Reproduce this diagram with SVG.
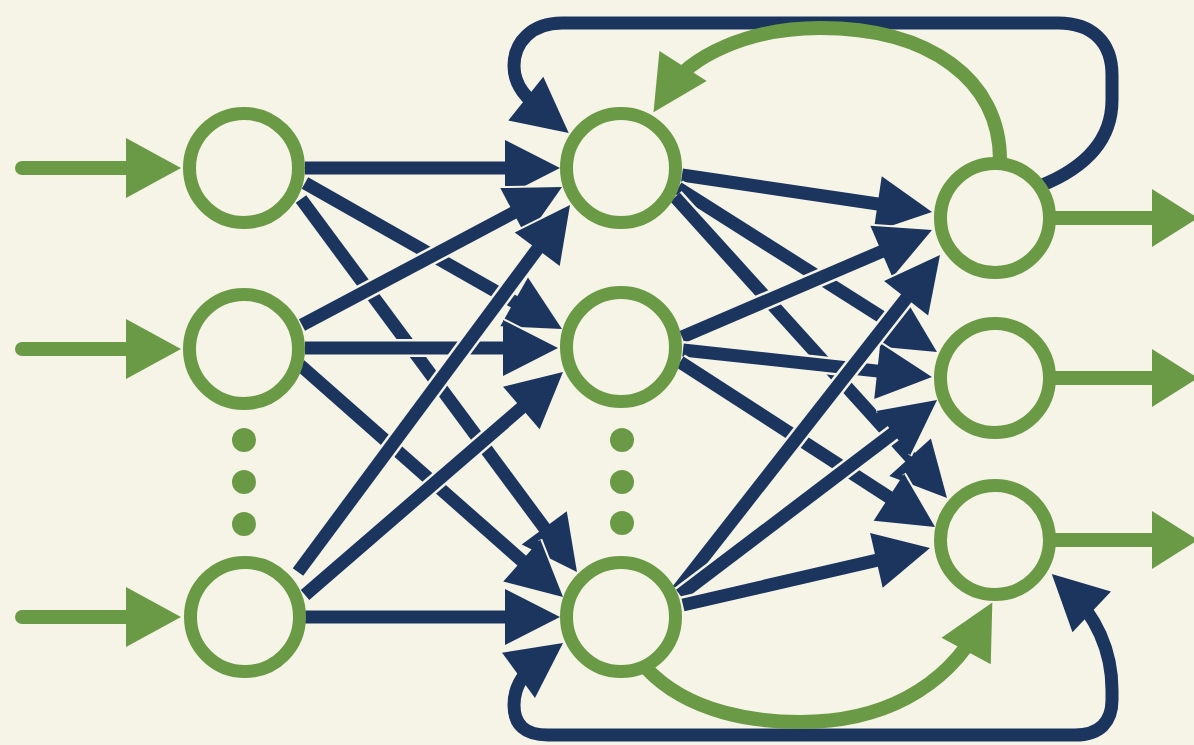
<svg xmlns="http://www.w3.org/2000/svg" width="1194" height="745" viewBox="0 0 1194 745">
  <defs>
    <style>
      .bg{fill:#f6f4e7}
      .node{fill:#f6f4e7;stroke:#6b9a46;stroke-width:13}
      .dot{fill:#6b9a46}
      .io{fill:none;stroke:#6b9a46;stroke-width:14;stroke-linecap:round}
      .io-head{fill:#6b9a46}
      .halo{fill:none;stroke:#f6f4e7;stroke-width:18}
      .wire{fill:none;stroke:#1b355e;stroke-width:13;marker-end:url(#navyHead)}
      .loop{fill:none;stroke:#1b355e;stroke-width:13}
      .arc{fill:none;stroke:#6b9a46;stroke-width:14;marker-end:url(#greenHead)}
    </style>
    <!-- navy arrowhead with a thin light rim along its two sides -->
    <marker id="navyHead" markerUnits="userSpaceOnUse" viewBox="0 0 60 60" markerWidth="60" markerHeight="60" refX="31" refY="30" orient="auto-start-reverse" overflow="visible">
      <path d="M0,2 L55,30 L0,58" fill="none" stroke="#f6f4e7" stroke-width="4"/>
      <path d="M0,2 L55,30 L0,58 Z" fill="#1b355e"/>
    </marker>
    <marker id="greenHead" markerUnits="userSpaceOnUse" viewBox="0 0 60 60" markerWidth="60" markerHeight="60" refX="31" refY="30" orient="auto" overflow="visible">
      <path d="M0,2 L55,30 L0,58 Z" fill="#6b9a46"/>
    </marker>
    <!-- input layer to hidden layer -->
    <path id="w1" d="M305,168 L536,168"/>
    <path id="w2" d="M305,183 L541.1,317.1"/>
    <path id="w3" d="M301,199 L562.7,552.7"/>
    <path id="w4" d="M302,325 L540.8,198.3"/>
    <path id="w5" d="M305,348 L534,348"/>
    <path id="w6" d="M300,365 L545,581.1"/>
    <path id="w7" d="M298,572 L555.7,224.3"/>
    <path id="w8" d="M305,595 L544.8,387.7"/>
    <path id="w9" d="M305,617 L536,617"/>
    <!-- hidden layer to output layer -->
    <path id="w10" d="M682,175 L908.3,208.5"/>
    <path id="w11" d="M678,188 L916.7,339.2"/>
    <path id="w12" d="M675,197 L930.9,480.2"/>
    <path id="w13" d="M682,337 L909.9,239.4"/>
    <path id="w14" d="M683,350 L908.1,374.4"/>
    <path id="w15" d="M680,362 L914.9,514"/>
    <path id="w16" d="M678,590 L925.2,273.9"/>
    <path id="w17" d="M680,595 L917.9,414.5"/>
    <path id="w18" d="M683,605 L906.6,553.4"/>
  </defs>

  <rect class="bg" x="0" y="0" width="1194" height="745"/>

  <g id="connectors">
    <!-- inputs -->
    <g id="input-arrows">
      <path class="io" d="M22,168 H135"/>
      <polygon class="io-head" points="126,138 181,168 126,198"/>
      <path class="io" d="M22,349 H135"/>
      <polygon class="io-head" points="126,319 181,349 126,379"/>
      <path class="io" d="M22,617 H135"/>
      <polygon class="io-head" points="126,587 181,617 126,647"/>
    </g>
    <!-- outputs -->
    <g id="output-arrows">
      <path class="io" d="M1050,218 H1160" style="stroke-linecap:butt"/>
      <polygon class="io-head" points="1152,189 1198,218 1152,247"/>
      <path class="io" d="M1050,378 H1160" style="stroke-linecap:butt"/>
      <polygon class="io-head" points="1152,349 1198,378 1152,407"/>
      <path class="io" d="M1050,540 H1160" style="stroke-linecap:butt"/>
      <polygon class="io-head" points="1152,511 1198,540 1152,569"/>
    </g>

    <g id="layer1-weights">
      <use href="#w1" class="halo"/><use href="#w1" class="wire"/>
      <use href="#w2" class="halo"/><use href="#w2" class="wire"/>
      <use href="#w3" class="halo"/><use href="#w3" class="wire"/>
      <use href="#w4" class="halo"/><use href="#w4" class="wire"/>
      <use href="#w5" class="halo"/><use href="#w5" class="wire"/>
      <use href="#w6" class="halo"/><use href="#w6" class="wire"/>
      <use href="#w7" class="halo"/><use href="#w7" class="wire"/>
      <use href="#w8" class="halo"/><use href="#w8" class="wire"/>
      <use href="#w9" class="halo"/><use href="#w9" class="wire"/>
    </g>
    <g id="layer2-weights">
      <use href="#w10" class="halo"/><use href="#w10" class="wire"/>
      <use href="#w11" class="halo"/><use href="#w11" class="wire"/>
      <use href="#w12" class="halo"/><use href="#w12" class="wire"/>
      <use href="#w13" class="halo"/><use href="#w13" class="wire"/>
      <use href="#w14" class="halo"/><use href="#w14" class="wire"/>
      <use href="#w15" class="halo"/><use href="#w15" class="wire"/>
      <use href="#w16" class="halo"/><use href="#w16" class="wire"/>
      <use href="#w17" class="halo"/><use href="#w17" class="wire"/>
      <use href="#w18" class="halo"/><use href="#w18" class="wire"/>
    </g>

    <!-- recurrent loops -->
    <path id="loop-top" class="loop" style="marker-end:url(#navyHead)" d="M1040,186 C1085,168 1112,140 1112,100 L1112,75 C1112,42 1092,23 1058,23 L562,23 C532,23 514,42 514,66 C514,85 525,98 550,118"/>
    <path id="loop-bottom" class="loop" style="marker-start:url(#navyHead);marker-end:url(#navyHead)" d="M543.6,657.1 C525,670.6 514,685 514,705 C514,725 525,735 548,735 L1075,735 C1100,735 1112,722 1112,700 L1112,690 C1112,650 1095,615 1069.2,590.6"/>
    <path id="arc-top" class="arc" d="M1000,160 C1000,80 930,28 820,28 C750,28 690,55 666.4,92.1"/>
    <path id="arc-bottom" class="arc" d="M646,668 C690,715 760,722 800,722 C880,722 945,690 980.9,623.7"/>
  </g>

  <g id="node-in-1"><circle class="node" cx="244" cy="168" r="54.5"/></g>
  <g id="node-in-2"><circle class="node" cx="244" cy="349" r="54.5"/></g>
  <g id="node-in-3"><circle class="node" cx="245" cy="617" r="54.5"/></g>
  <g id="ellipsis-in">
    <circle class="dot" cx="244" cy="440" r="12"/>
    <circle class="dot" cx="244" cy="482" r="12"/>
    <circle class="dot" cx="244" cy="524" r="12"/>
  </g>

  <g id="node-hid-1"><circle class="node" cx="621" cy="168" r="54.5"/></g>
  <g id="node-hid-2"><circle class="node" cx="621" cy="347" r="54.5"/></g>
  <g id="node-hid-3"><circle class="node" cx="621" cy="617" r="54.5"/></g>
  <g id="ellipsis-hid">
    <circle class="dot" cx="622" cy="440" r="12"/>
    <circle class="dot" cx="622" cy="482" r="12"/>
    <circle class="dot" cx="622" cy="523" r="12"/>
  </g>

  <g id="node-out-1"><circle class="node" cx="995" cy="218" r="54.5"/></g>
  <g id="node-out-2"><circle class="node" cx="995" cy="378" r="54.5"/></g>
  <g id="node-out-3"><circle class="node" cx="995" cy="540" r="54.5"/></g>
</svg>
